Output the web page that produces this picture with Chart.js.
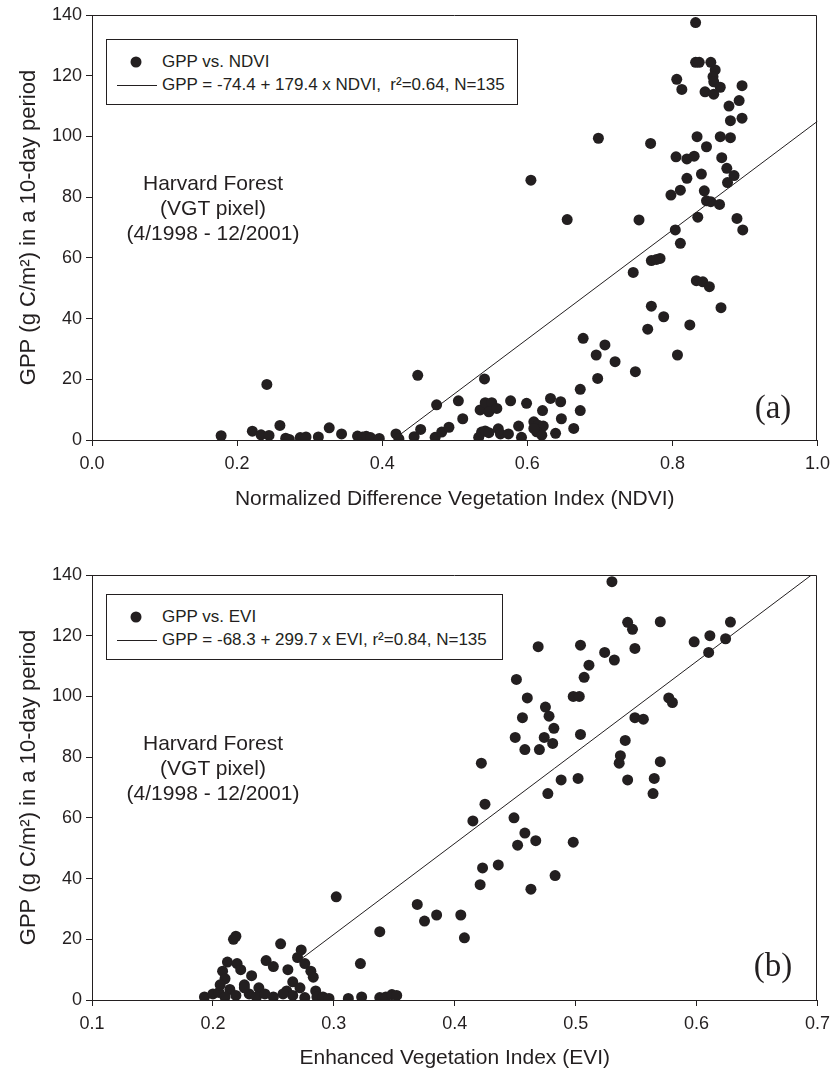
<!DOCTYPE html>
<html><head><meta charset="utf-8">
<script src="https://cdn.jsdelivr.net/npm/chart.js@4.4.0/dist/chart.umd.min.js"></script>
<style>
body{margin:0;background:#fff;width:837px;height:1075px;position:relative;overflow:hidden;font-family:"Liberation Sans",Arial,sans-serif;color:#231f20}
canvas{position:absolute;left:0}
.legend{position:absolute;border:1px solid #231f20;background:#fff;box-sizing:border-box}
.lt{position:absolute;font-size:17px;white-space:nowrap;line-height:20px;transform:translateY(-50%)}
.dot{position:absolute;width:11px;height:11px;border-radius:50%;background:#231f20;transform:translate(-50%,-50%)}
.ln{position:absolute;height:1px;background:#231f20}
.site{position:absolute;font-size:21px;line-height:25px;text-align:center;white-space:nowrap;transform:translateX(-50%)}
.tag{position:absolute;font-family:"Liberation Serif","Times New Roman",serif;font-size:33px;transform:translate(-50%,-50%);white-space:nowrap}
</style>
</head><body>
<canvas id="ca" width="837" height="540" style="top:0"></canvas>
<canvas id="cb" width="837" height="535" style="top:540px"></canvas>

<div class="legend" style="left:106px;top:39px;width:412px;height:66px"></div>
<div class="dot" style="left:136px;top:62px"></div>
<div class="ln" style="left:117px;top:85px;width:40px"></div>
<div class="lt" style="left:162px;top:62px">GPP vs. NDVI</div>
<div class="lt" style="left:162px;top:85px">GPP = -74.4 + 179.4 x NDVI,&nbsp; r²=0.64, N=135</div>
<div class="site" style="left:213px;top:170px">Harvard Forest<br>(VGT pixel)<br>(4/1998 - 12/2001)</div>
<div class="tag" style="left:773px;top:407px">(a)</div>

<div class="legend" style="left:106px;top:594px;width:397px;height:66px"></div>
<div class="dot" style="left:136px;top:617px"></div>
<div class="ln" style="left:117px;top:640px;width:40px"></div>
<div class="lt" style="left:162px;top:617px">GPP vs. EVI</div>
<div class="lt" style="left:162px;top:640px">GPP = -68.3 + 299.7 x EVI, r²=0.84, N=135</div>
<div class="site" style="left:213px;top:730px">Harvard Forest<br>(VGT pixel)<br>(4/1998 - 12/2001)</div>
<div class="tag" style="left:773px;top:965px">(b)</div>

<script>
const ndviX=[0.178,0.241,0.221,0.233,0.244,0.259,0.267,0.272,0.287,0.295,0.312,0.327,0.344,0.366,0.373,0.378,0.384,0.396,0.419,0.423,
0.449,0.444,0.453,0.475,0.473,0.482,0.492,0.505,0.541,0.511,0.533,0.537,0.542,0.547,0.560,0.563,0.574,0.535,0.542,0.551,
0.547,0.558,0.577,0.599,0.588,0.592,0.609,0.615,0.622,0.613,0.620,0.609,0.621,0.632,0.646,0.647,0.639,0.664,0.673,0.673,
0.697,0.721,0.749,0.695,0.707,0.807,0.677,
0.832,0.832,0.837,0.853,0.859,0.856,0.857,0.806,0.813,0.845,0.857,0.866,0.896,0.892,0.878,0.880,0.896,0.698,0.770,0.834,
0.866,0.880,0.847,0.805,0.820,0.830,0.868,0.875,0.885,0.876,0.840,0.820,0.811,0.798,0.844,0.847,0.853,0.865,0.754,0.835,
0.889,0.804,0.897,0.811,0.771,0.778,0.783,0.746,0.833,0.842,0.851,0.771,0.788,0.766,0.824,0.867,0.605,0.655];
const ndviY=[1.4,18.3,2.9,1.7,1.5,4.8,0.6,0.2,0.8,1.0,1.0,4.0,2.0,1.3,1.0,1.2,0.8,0.5,2.0,0.4,
21.3,1.1,3.5,11.6,0.9,2.6,4.2,12.9,20.1,7.0,0.9,2.6,3.0,2.4,3.7,2.0,2.0,9.9,12.3,12.3,
9.3,10.4,12.9,12.1,4.6,0.9,6.0,4.9,4.6,2.7,1.6,3.8,9.7,13.7,12.6,7.0,2.2,3.8,16.7,9.7,
20.3,25.8,22.5,28.0,31.3,28.0,33.5,
137.5,124.4,124.4,124.4,121.9,119.7,118.0,118.8,115.5,114.7,113.9,116.2,116.7,111.8,110.0,105.2,106.0,99.4,97.7,99.9,
99.9,99.6,96.6,93.3,92.6,93.5,93.0,89.5,87.1,84.8,87.6,86.2,82.3,80.7,82.1,78.8,78.5,77.6,72.5,73.4,
73.0,69.2,69.2,64.8,59.1,59.5,59.8,55.2,52.5,52.1,50.5,44.1,40.6,36.5,37.9,43.6,85.6,72.6];

const eviX=[0.193,0.200,0.205,0.208,0.210,0.212,0.217,0.219,0.220,0.223,0.226,0.214,0.210,0.219,0.230,0.226,0.238,0.244,0.250,0.256,
0.262,0.261,0.266,0.270,0.273,0.276,0.281,0.283,0.285,0.286,0.291,0.296,0.302,0.312,0.322,0.323,0.338,0.338,0.343,0.348,
0.352,0.236,0.250,0.266,0.276,0.206,0.232,0.243,0.258,0.272,
0.369,0.375,0.385,0.405,0.408,0.415,0.421,0.423,0.422,0.425,0.436,0.449,0.452,0.458,0.463,0.467,0.470,0.474,0.477,0.481,
0.483,0.488,0.498,0.502,0.458,0.456,0.460,0.451,0.469,0.475,0.478,0.482,0.450,0.498,0.503,0.504,0.507,0.511,0.504,0.524,
0.530,0.532,0.543,0.547,0.541,0.537,0.536,0.543,0.549,0.556,0.549,0.564,0.565,0.570,0.570,0.577,0.580,0.598,0.611,0.610,
0.624,0.628];
const eviY=[1.0,2.0,2.5,9.5,7.0,12.5,20.0,21.0,12.0,10.0,5.0,3.5,1.0,1.5,2.0,4.0,4.0,13.0,11.0,18.5,
10.0,3.0,6.0,14.0,16.5,12.0,9.5,7.5,3.0,1.0,1.0,0.5,34.0,0.5,12.0,1.0,22.5,0.8,1.0,1.8,
1.5,1.0,1.0,1.5,0.8,5.0,8.0,2.0,2.0,4.0,
31.5,26.0,28.0,28.0,20.5,59.0,38.0,43.5,78.0,64.5,44.5,60.0,51.0,55.0,36.5,52.5,82.5,86.5,68.0,84.5,
41.0,72.5,52.0,73.0,82.5,93.0,99.5,105.6,116.4,96.5,93.5,89.5,86.5,100.0,100.0,87.5,106.3,110.3,116.9,114.5,
137.8,112.0,124.4,122.1,85.5,80.5,78.0,72.5,93.0,92.5,115.8,68.0,73.0,78.5,124.6,99.5,98.0,118.0,120.0,114.5,
119.0,124.5];

const ndviFit=[-74.4,179.4];
const eviFit=[-68.3,299.7];
const ndviLineX=[0.425,1.0];
const eviLineX=[0.27,0.695];
const ndviTicks=[0,0.2,0.4,0.6,0.8,1.0];
const eviTicks=[0.1,0.2,0.3,0.4,0.5,0.6,0.7];
const gppTicks=[0,20,40,60,80,100,120,140];

const INK='#231f20', FAM='"Liberation Sans", Arial, sans-serif';
function pts(xs,ys){return xs.map((x,i)=>({x:x,y:ys[i]}));}
function fitPts(xs,f){return xs.map(x=>({x:x,y:f[0]+f[1]*x}));}
const frame={id:'frame',afterDraw(c){const a=c.chartArea,ctx=c.ctx;ctx.save();ctx.strokeStyle=INK;ctx.lineWidth=1;
ctx.beginPath();ctx.moveTo(Math.round(a.left)+0.5,Math.round(a.top)+0.5);ctx.lineTo(Math.round(a.right)-0.5,Math.round(a.top)+0.5);
ctx.lineTo(Math.round(a.right)-0.5,Math.round(a.bottom));ctx.stroke();ctx.restore();}};

function make(id,xs,ys,fit,lineX,xTicks,xTitle,padTop,xH,titlePadB){
  const xmin=xTicks[0], xmax=xTicks[xTicks.length-1];
  return new Chart(document.getElementById(id),{
    type:'scatter',
    data:{datasets:[
      {type:'line',data:fitPts(lineX,fit),borderColor:INK,borderWidth:1,pointRadius:0,fill:false,showLine:true},
      {data:pts(xs,ys),pointRadius:5.5,pointHoverRadius:5.5,pointBackgroundColor:INK,pointBorderWidth:0,borderWidth:0}
    ]},
    options:{responsive:false,animation:false,events:[],
      layout:{padding:{top:padTop,right:17,left:0,bottom:0}},
      plugins:{legend:{display:false},tooltip:{enabled:false}},
      scales:{
        x:{type:'linear',min:xmin,max:xmax,
          afterBuildTicks(s){s.ticks=xTicks.map(v=>({value:v}));},
          ticks:{callback:v=>Number(v).toFixed(1),font:{size:18,family:FAM},color:INK,padding:7,maxRotation:0,autoSkip:false},
          grid:{display:true,drawOnChartArea:false,tickLength:6,color:INK},
          border:{display:true,color:INK},
          title:{display:true,text:xTitle,font:{size:21,family:FAM},color:INK,padding:{top:0,bottom:titlePadB}},
          afterFit(s){s.height=xH;}},
        y:{type:'linear',min:0,max:140,
          afterBuildTicks(s){s.ticks=gppTicks.map(v=>({value:v}));},
          ticks:{font:{size:18,family:FAM},color:INK,padding:4},
          grid:{display:true,drawOnChartArea:false,tickLength:6,color:INK},
          border:{display:true,color:INK},
          title:{display:true,text:'GPP (g C/m²) in a 10-day period',font:{size:22,family:FAM},color:INK,padding:{top:16,bottom:0}},
          afterFit(s){s.width=92;}}
      }
    },
    plugins:[frame]
  });
}
make('ca',ndviX,ndviY,ndviFit,ndviLineX,ndviTicks,'Normalized Difference Vegetation Index (NDVI)',15,100,28);
make('cb',eviX,eviY,eviFit,eviLineX,eviTicks,'Enhanced Vegetation Index (EVI)',35,75,4);
</script>
</body></html>
